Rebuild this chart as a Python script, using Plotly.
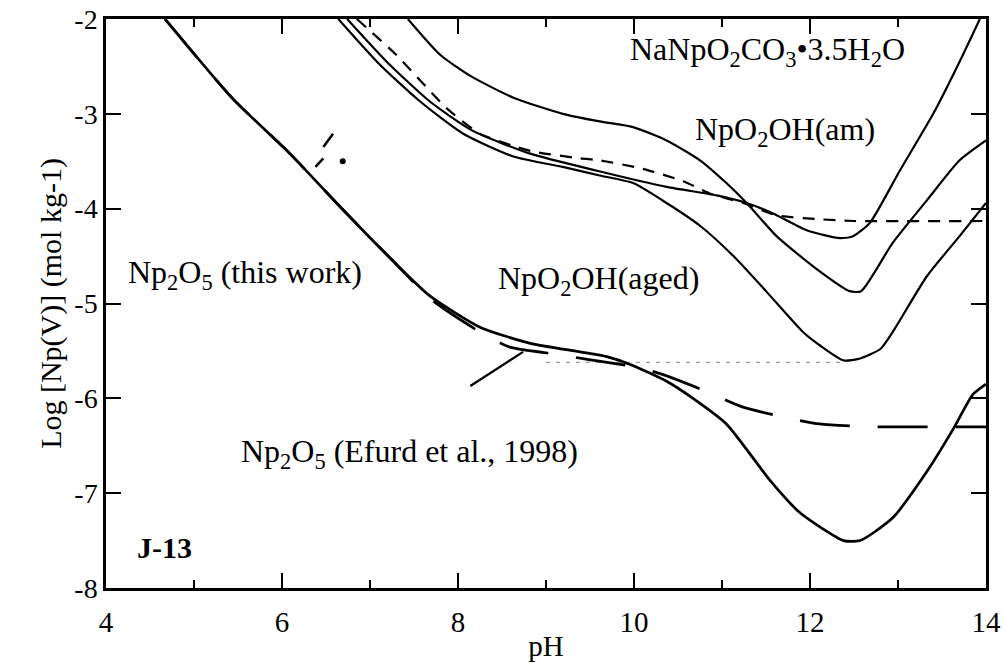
import plotly.graph_objects as go

# ---------------- data ----------------
# NaNpO2CO3.3.5H2O curve (shallow V)
na_ph = [6.74, 7.19, 7.68, 8.17, 8.82, 9.58, 10.37, 10.94, 11.28, 11.58, 11.97, 12.34, 12.49, 12.68, 13.02, 13.4, 13.7, 13.93]
na_log = [-2.0, -2.45, -2.87, -3.18, -3.42, -3.6, -3.77, -3.86, -3.94, -4.05, -4.23, -4.31, -4.29, -4.15, -3.6, -3.0, -2.45, -2.0]

# NpO2OH(am) curve (top solid)
am_ph = [7.43, 7.80, 8.14, 8.63, 9.19, 9.61, 9.99, 10.37, 10.75, 11.05, 11.28, 11.62, 12.08, 12.45, 12.58, 12.94, 13.33, 13.7, 14.0]
am_log = [-2.0, -2.38, -2.6, -2.83, -3.0, -3.08, -3.14, -3.28, -3.49, -3.73, -3.94, -4.29, -4.64, -4.87, -4.87, -4.36, -3.91, -3.49, -3.28]

# NpO2OH(aged) curve
aged_ph = [6.64, 7.11, 7.57, 8.06, 8.63, 9.19, 9.61, 9.99, 10.37, 10.75, 11.13, 11.51, 11.92, 12.11, 12.38, 12.57, 12.8, 12.94, 13.33, 13.7, 14.0]
aged_log = [-2.0, -2.48, -2.87, -3.21, -3.45, -3.56, -3.65, -3.73, -3.94, -4.18, -4.5, -4.88, -5.3, -5.44, -5.6, -5.58, -5.48, -5.3, -4.71, -4.29, -3.94]

# short-dashed curve in the upper bundle
sd_ph = [6.85, 7.3, 7.87, 8.25, 8.82, 9.39, 9.61, 10.1, 10.56, 10.86, 11.24, 11.62, 12.08, 12.5, 14.0]
sd_log = [-2.0, -2.38, -2.94, -3.21, -3.39, -3.47, -3.49, -3.58, -3.71, -3.84, -3.94, -4.07, -4.11, -4.13, -4.13]

# Np2O5 (Efurd et al., 1998) - solid
ef_ph = [4.67, 5.44, 6.09, 6.66, 7.26, 7.68, 8.25, 8.82, 9.39, 9.69, 9.95, 10.37, 10.67, 11.05, 11.55, 11.89, 12.38, 12.57, 12.94, 13.33, 13.63, 13.85, 14.0]
ef_log = [-2.0, -2.84, -3.42, -3.98, -4.55, -4.92, -5.25, -5.42, -5.51, -5.56, -5.64, -5.82, -6.0, -6.27, -6.87, -7.21, -7.5, -7.5, -7.26, -6.77, -6.32, -5.96, -5.85]

# Np2O5 (this work) - long dashed
tw_ph = [4.67, 5.44, 6.09, 6.66, 7.26, 7.70, 8.25, 8.59, 9.16, 9.47, 10.03, 10.33, 10.75, 10.9, 11.23, 11.81, 12.11, 12.68, 13.0, 14.0]
tw_log = [-2.0, -2.84, -3.42, -3.98, -4.55, -4.96, -5.3, -5.46, -5.54, -5.59, -5.67, -5.75, -5.9, -5.96, -6.09, -6.22, -6.27, -6.3, -6.3, -6.3]

# faint dotted line
fd_ph = [9.0, 12.4]
fd_log = [-5.62, -5.62]

# pointer segment
ptr_ph = [8.14, 8.74]
ptr_log = [-5.87, -5.51]

# small marks
mk1_ph = [6.47, 6.58]
mk1_log = [-3.35, -3.21]
mk2_ph = [6.38, 6.47]
mk2_log = [-3.56, -3.47]
dot_ph = [6.69]
dot_log = [-3.5]

# axes ticks
x_ticks = [4, 6, 8, 10, 12, 14]
x_ticktext = ["4", "6", "8", "10", "12", "14"]
x_minor = [5, 7, 9, 11, 13]
y_ticks = [-8, -7, -6, -5, -4, -3, -2]
y_ticktext = ["-8", "-7", "-6", "-5", "-4", "-3", "-2"]

# labels
lab_text = ["NaNpO<sub>2</sub>CO<sub>3</sub>•3.5H<sub>2</sub>O", "NpO<sub>2</sub>OH(am)",
            "NpO<sub>2</sub>OH(aged)", "Np<sub>2</sub>O<sub>5</sub> (this work)",
            "Np<sub>2</sub>O<sub>5</sub> (Efurd et al., 1998)", "<b>J-13</b>"]
lab_x = [11.52, 11.72, 9.60, 5.58, 7.45, 4.66]
lab_y = [-2.34, -3.19, -4.76, -4.69, -6.58, -7.57]
lab_size = [32, 32, 32, 32, 32, 30]

FONT = "Liberation Serif"

fig = go.Figure()

def add_line(x, y, width=2.0, dash="solid", color="black", shape="spline"):
    fig.add_trace(go.Scatter(x=x, y=y, mode="lines",
                             line=dict(color=color, width=width, dash=dash, shape=shape, smoothing=0.6),
                             showlegend=False, hoverinfo="skip"))

add_line(fd_ph, fd_log, width=1.2, dash="4px,6px", color="#9a9a9a", shape="linear")
add_line(na_ph, na_log, width=2.2)
add_line(am_ph, am_log, width=2.2)
add_line(aged_ph, aged_log, width=2.2)
add_line(sd_ph, sd_log, width=2.2, dash="12px,9px")
add_line(tw_ph, tw_log, width=2.7, dash="50px,28px")
add_line(ef_ph, ef_log, width=2.7)
add_line(ptr_ph, ptr_log, width=2.2, shape="linear")
add_line(mk1_ph, mk1_log, width=2.5, shape="linear")
add_line(mk2_ph, mk2_log, width=2.5, shape="linear")
fig.add_trace(go.Scatter(x=dot_ph, y=dot_log, mode="markers",
                         marker=dict(color="black", size=6), showlegend=False, hoverinfo="skip"))

for t, x, y, s in zip(lab_text, lab_x, lab_y, lab_size):
    fig.add_annotation(x=x, y=y, xref="x", yref="y", text=t, showarrow=False,
                       font=dict(family=FONT, size=s, color="black"))

axis_common = dict(showline=True, linecolor="black", linewidth=2.5, mirror="ticks",
                   ticks="inside", ticklen=15, tickwidth=2, tickcolor="black",
                   showgrid=False, zeroline=False, automargin=False,
                   ticklabeloverflow="allow")

fig.update_xaxes(range=[4, 14], tickvals=x_ticks, ticktext=x_ticktext,
                 minor=dict(tickvals=x_minor, ticks="inside", ticklen=8, tickwidth=2, tickcolor="black"),
                 ticklabelstandoff=6,
                 tickfont=dict(family=FONT, size=29, color="black"),
                 title=dict(text="pH", font=dict(family=FONT, size=29, color="black"), standoff=0),
                 **axis_common)
fig.update_yaxes(range=[-8, -2], tickvals=y_ticks, ticktext=y_ticktext,
                 tickfont=dict(family=FONT, size=28, color="black"),
                 title=dict(text="Log [Np(V)] (mol kg-1)", font=dict(family=FONT, size=30, color="black"), standoff=4),
                 **axis_common)

fig.update_layout(width=1004, height=663, margin=dict(l=106, r=18, t=19, b=75),
                  paper_bgcolor="white", plot_bgcolor="white")

fig.write_html("out.html")
